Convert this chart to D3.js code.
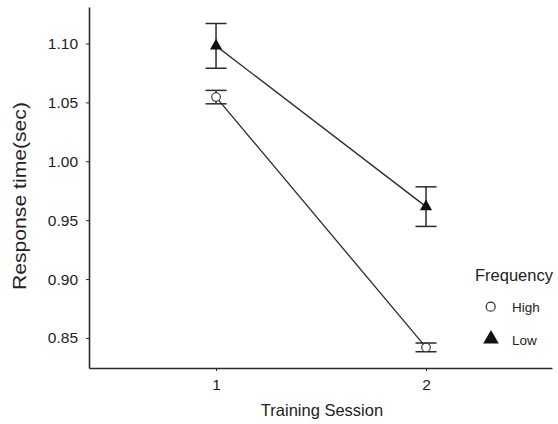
<!DOCTYPE html>
<html><head><meta charset="utf-8">
<script src="https://cdn.jsdelivr.net/npm/d3@7"></script>
<style>body{margin:0;background:#fff}svg{display:block}text{font-family:"Liberation Sans",Arial,Helvetica,sans-serif;fill:#222}</style>
</head><body><svg id="c" width="558" height="424"></svg>
<script>
const sessions = [1, 2];
const highMean = [1.0545, 0.842];
const highErr = [0.0057, 0.0037];
const lowMean = [1.098, 0.9615];
const lowErr = [0.019, 0.0168];
const yTicks = [0.85, 0.90, 0.95, 1.00, 1.05, 1.10];
const legendLabels = ["High", "Low"];

const svg = d3.select("#c");
const x = d3.scaleLinear().domain([0.395, 2.6]).range([89, 552]);
const y = d3.scaleLinear().domain([0.8245, 1.131]).range([368, 7]);
const ink = "#2b2b2b";

// axes
const ya = svg.append("g").attr("transform", "translate(89,0)")
  .call(d3.axisLeft(y).tickValues(yTicks).tickFormat(d3.format(".2f")).tickSize(3).tickSizeOuter(0));
const xa = svg.append("g").attr("transform", "translate(0,368)")
  .call(d3.axisBottom(x).tickValues(sessions).tickFormat(d3.format("d")).tickSize(3).tickSizeOuter(0));
[ya, xa].forEach(g => {
  g.select(".domain").attr("stroke", ink).attr("stroke-width", 1.6);
  g.selectAll(".tick line").attr("stroke", ink).attr("stroke-width", 1);
  g.selectAll(".tick text").style("font-size", "15.5px").attr("fill", "#222");
});
ya.selectAll(".tick text").attr("x", -11);
xa.selectAll(".tick text").attr("y", 11);

svg.append("text").attr("transform", "translate(26,196) rotate(-90)")
  .attr("text-anchor", "middle").style("font-size", "17.5px")
  .attr("textLength", 188).attr("lengthAdjust", "spacingAndGlyphs").text("Response time(sec)");
svg.append("text").attr("x", 322).attr("y", 416)
  .attr("text-anchor", "middle").style("font-size", "16.5px").text("Training Session");

const series = [
  {mean: highMean, err: highErr, shape: "circle"},
  {mean: lowMean, err: lowErr, shape: "triangle"}
];
const line = d3.line().x((d, i) => x(sessions[i])).y(d => y(d));
series.forEach(s => {
  svg.append("path").attr("d", line(s.mean)).attr("fill", "none")
    .attr("stroke", ink).attr("stroke-width", 1.3);
  sessions.forEach((sx, i) => {
    const cx = x(sx), top = y(s.mean[i] + s.err[i]), bot = y(s.mean[i] - s.err[i]);
    const g = svg.append("g").attr("stroke", ink).attr("stroke-width", 1.5);
    g.append("line").attr("x1", cx).attr("x2", cx).attr("y1", top).attr("y2", bot);
    g.append("line").attr("x1", cx - 10.5).attr("x2", cx + 10.5).attr("y1", top).attr("y2", top);
    g.append("line").attr("x1", cx - 10.5).attr("x2", cx + 10.5).attr("y1", bot).attr("y2", bot);
  });
  sessions.forEach((sx, i) => {
    const cx = x(sx), cy = y(s.mean[i]);
    if (s.shape === "circle") {
      svg.append("circle").attr("cx", cx).attr("cy", cy).attr("r", 4.3)
        .attr("fill", "#fff").attr("stroke", ink).attr("stroke-width", 1.1);
    } else {
      svg.append("path").attr("transform", `translate(${cx},${cy})`)
        .attr("d", d3.symbol(d3.symbolTriangle, 64)()).attr("fill", "#111");
    }
  });
});

// legend
svg.append("text").attr("x", 475).attr("y", 281).style("font-size", "16.5px").text("Frequency");
const ly = [306.7, 339];
const lb = [311.7, 345];
legendLabels.forEach((lab, i) => {
  if (i === 0) {
    svg.append("circle").attr("cx", 490.7).attr("cy", ly[i]).attr("r", 4.5)
      .attr("fill", "#fff").attr("stroke", ink).attr("stroke-width", 1.2);
  } else {
    svg.append("path").attr("transform", `translate(491,${ly[i]})`)
      .attr("d", d3.symbol(d3.symbolTriangle, 105)()).attr("fill", "#111");
  }
  svg.append("text").attr("x", 512).attr("y", lb[i]).style("font-size", "13.5px").text(lab);
});
</script></body></html>
